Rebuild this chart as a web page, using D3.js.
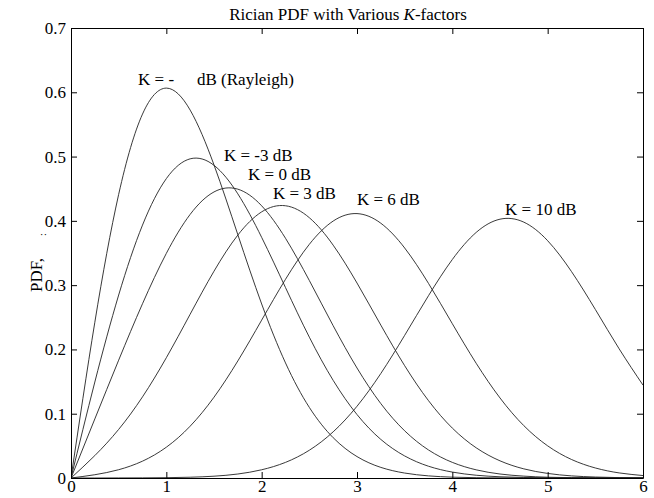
<!DOCTYPE html>
<html>
  <head>
    <meta charset="utf-8">
    <title>Rician PDF</title>
    <style>
      body { margin: 0; background: #fff; }
      text { font-family: "Liberation Serif", "Times New Roman", serif; fill: #000; }
    </style>
  </head>
  <body>
    <div id="container"></div>
    <script src="https://cdn.jsdelivr.net/npm/d3@7"></script>
    <script>
      // sample points along r
      var rValues = [0, 0.25, 0.5, 0.75, 1, 1.25, 1.5, 1.75, 2, 2.25, 2.5, 2.75, 3,
                     3.25, 3.5, 3.75, 4, 4.25, 4.5, 4.75, 5, 5.25, 5.5, 5.75, 6];

      var pdfRayleigh = [0, 0.2423, 0.4412, 0.5661, 0.6065, 0.5723, 0.4870, 0.3785, 0.2707, 0.1790, 0.1098, 0.0627, 0.0333,
                         0.0165, 0.0077, 0.0033, 0.0013, 0.0005, 0.0002, 0.0001, 0, 0, 0, 0, 0];
      var pdfKm3 = [0, 0.1493, 0.2846, 0.3934, 0.4657, 0.4965, 0.4864, 0.4420, 0.3743, 0.2962, 0.2191, 0.1519, 0.0987,
                    0.0600, 0.0343, 0.0183, 0.0092, 0.0043, 0.0019, 0.0008, 0.0003, 0.0001, 0, 0, 0];
      var pdfK0 = [0, 0.0919, 0.1833, 0.2711, 0.3494, 0.4101, 0.4450, 0.4493, 0.4234, 0.3729, 0.3072, 0.2369, 0.1711,
                   0.1157, 0.0734, 0.0436, 0.0243, 0.0127, 0.0062, 0.0029, 0.0012, 0.0005, 0.0002, 0.0001, 0];
      var pdfK3 = [0, 0.0349, 0.0756, 0.1262, 0.1871, 0.2548, 0.3217, 0.3779, 0.4140, 0.4235, 0.4049, 0.3622, 0.3033,
                   0.2378, 0.1747, 0.1203, 0.0776, 0.0470, 0.0267, 0.0142, 0.0071, 0.0033, 0.0015, 0.0006, 0.0002];
      var pdfK6 = [0, 0.0051, 0.0129, 0.0262, 0.0479, 0.0806, 0.1257, 0.1821, 0.2456, 0.3091, 0.3635, 0.3997, 0.4113,
                   0.3963, 0.3578, 0.3027, 0.2400, 0.1785, 0.1245, 0.0814, 0.0500, 0.0288, 0.0156, 0.0079, 0.0038];
      var pdfK10 = [0, 0, 0.0001, 0.0002, 0.0005, 0.0012, 0.0028, 0.0062, 0.0128, 0.0243, 0.0432, 0.0718, 0.1116,
                    0.1626, 0.2219, 0.2836, 0.3399, 0.3820, 0.4026, 0.3980, 0.3691, 0.3211, 0.2622, 0.2009, 0.1445];

      var series = [pdfRayleigh, pdfKm3, pdfK0, pdfK3, pdfK6, pdfK10];

      var xTicks = [0, 1, 2, 3, 4, 5, 6];
      var yTicks = [0, 0.1, 0.2, 0.3, 0.4, 0.5, 0.6, 0.7];

      var titleText = "Rician PDF with Various ";
      var labelTexts = ["K = -", "dB (Rayleigh)", "K = -3 dB", "K = 0 dB", "K = 3 dB", "K = 6 dB", "K = 10 dB"];
      // where each label sits, in data units
      var labelAt = [[0.703, 0.611], [1.322, 0.611], [1.605, 0.493], [1.857, 0.4636],
                     [2.119, 0.434], [3.0, 0.4247], [4.553, 0.409]];

      var margin = {top: 28, right: 11, bottom: 20, left: 71},
        W = 654, H = 498,
        width = W - margin.left - margin.right,
        height = H - margin.top - margin.bottom;

      var x = d3.scaleLinear().domain([0, 6]).range([0, width]);
      var y = d3.scaleLinear().domain([0, 0.7]).range([height, 0]);

      var svg = d3.select("#container").append("svg")
        .attr("width", W)
        .attr("height", H);
      svg.append("rect").attr("width", W).attr("height", H).attr("fill", "#fff");

      var g = svg.append("g")
        .attr("transform", "translate(" + margin.left + "," + margin.top + ")");

      var line = d3.line()
        .x(function(d, i) { return x(rValues[i]); })
        .y(function(d) { return y(d); })
        .curve(d3.curveNatural);

      g.append("clipPath").attr("id", "plotclip")
        .append("rect").attr("width", width).attr("height", height);

      series.forEach(function(s) {
        g.append("path")
          .datum(s)
          .attr("d", line)
          .attr("clip-path", "url(#plotclip)")
          .attr("fill", "none")
          .attr("stroke", "#222")
          .attr("stroke-width", 0.9);
      });

      // axes, ticks pointing inward on all four sides
      var fmtY = function(d) { return d === 0 ? "0" : d3.format(".1f")(d); };
      var gx = g.append("g").attr("transform", "translate(0," + height + ")")
        .call(d3.axisBottom(x).tickValues(xTicks).tickSize(-6).tickSizeOuter(0).tickPadding(2).tickFormat(d3.format("d")));
      var gy = g.append("g")
        .call(d3.axisLeft(y).tickValues(yTicks).tickSize(-6).tickSizeOuter(0).tickPadding(5).tickFormat(fmtY));
      var gt = g.append("g")
        .call(d3.axisTop(x).tickValues(xTicks).tickSize(-6).tickSizeOuter(0).tickFormat(""));
      var gr = g.append("g").attr("transform", "translate(" + width + ",0)")
        .call(d3.axisRight(y).tickValues(yTicks).tickSize(-6).tickSizeOuter(0).tickFormat(""));

      [gx, gy, gt, gr].forEach(function(a) {
        a.selectAll("path").attr("stroke", "#000").attr("stroke-width", 1);
        a.selectAll("line").attr("stroke", "#000").attr("stroke-width", 1);
        a.selectAll("text").attr("font-family", "Liberation Serif").attr("font-size", 17).attr("fill", "#000");
      });

      // title
      var t = svg.append("text")
        .attr("x", 348).attr("y", 20)
        .attr("text-anchor", "middle")
        .attr("font-size", 17);
      t.append("tspan").text(titleText);
      t.append("tspan").attr("font-style", "italic").text("K");
      t.append("tspan").text("-factors");

      // y label
      svg.append("text")
        .attr("transform", "translate(42,292) rotate(-90)")
        .attr("font-size", 17)
        .text("PDF,");
      svg.append("text")
        .attr("transform", "translate(46,236) rotate(-90)")
        .attr("font-size", 10)
        .text(":");

      // curve labels
      g.selectAll(".klabel")
        .data(labelTexts)
        .enter().append("text")
          .attr("class", "klabel")
          .attr("x", function(d, i) { return x(labelAt[i][0]); })
          .attr("y", function(d, i) { return y(labelAt[i][1]); })
          .attr("font-size", 17)
          .text(function(d) { return d; });
    </script>
  </body>
</html>
